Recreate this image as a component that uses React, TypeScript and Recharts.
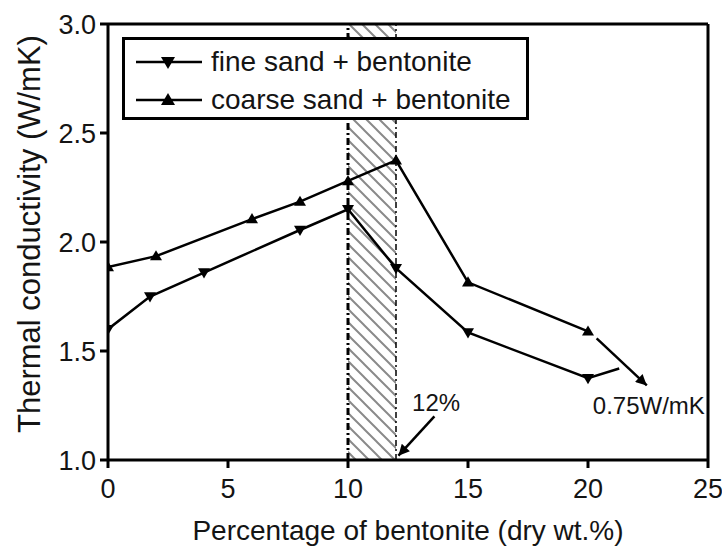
import React from 'react';
import {
  LineChart, Line, XAxis, YAxis, ReferenceArea, ReferenceLine, ReferenceDot, Legend, Label,
} from 'recharts';

// fine sand + bentonite (last point is the bend into the 0.75 W/mK arrow, no marker)
const fineX = [0, 1.75, 4, 8, 10, 12, 15, 20, 21.3];
const fineY = [1.6, 1.75, 1.86, 2.055, 2.15, 1.88, 1.585, 1.375, 1.42];

// coarse sand + bentonite
const coarseX = [0, 2, 6, 8, 10, 12, 15, 20];
const coarseY = [1.885, 1.935, 2.105, 2.185, 2.28, 2.375, 1.815, 1.59];

const xTicks = [0, 5, 10, 15, 20, 25];
const yTicks = [1.0, 1.5, 2.0, 2.5, 3.0];

// shaded band and annotations
const bandX = [10, 12];
const arrow075 = [{ x: 20.36, y: 1.558 }, { x: 22.45, y: 1.342 }];
const arrow12 = [{ x: 13.6, y: 1.2 }, { x: 12.1, y: 1.02 }];
const label12 = { x: 12.67, y: 1.266, text: '12%' };
const label075 = { x: 20.2, y: 1.252, text: '0.75W/mK' };

const fineData = fineX.map((x, i) => ({ x, y: fineY[i] }));
const coarseData = coarseX.map((x, i) => ({ x, y: coarseY[i] }));

const FONT = '"Liberation Sans", Arial, sans-serif';
const INK = '#141414';

const DownTri = ({ cx, cy, size = 6 }: any) => (
  <polygon points={`${cx},${cy + size} ${cx - size},${cy - size * 0.7} ${cx + size},${cy - size * 0.7}`} fill="#000" />
);
const UpTri = ({ cx, cy, size = 6 }: any) => (
  <polygon points={`${cx},${cy - size} ${cx - size},${cy + size * 0.7} ${cx + size},${cy + size * 0.7}`} fill="#000" />
);

const fineDot = (props: any) => {
  if (props.index === fineData.length - 1) return <g key={props.index} />;
  return <DownTri key={props.index} cx={props.cx} cy={props.cy} />;
};
const coarseDot = (props: any) => <UpTri key={props.index} cx={props.cx} cy={props.cy} />;

const arrowShape = (p: any) => (
  <line x1={p.x1} y1={p.y1} x2={p.x2} y2={p.y2} stroke="#000" strokeWidth={2.5} markerEnd="url(#arrowHead)" />
);

const LegendBox = () => {
  const rows = [
    { name: 'fine sand + bentonite', Marker: DownTri, top: 25.5 },
    { name: 'coarse sand + bentonite', Marker: UpTri, top: 63.5 },
  ];
  return (
    <div style={{
      position: 'relative', width: 407, height: 83, boxSizing: 'border-box',
      border: '3px solid #000', background: '#fff', fontFamily: FONT,
    }}>
      {rows.map(({ name, Marker, top }) => (
        <div key={name} style={{ position: 'absolute', left: 11.5, top: top - 3 - 14, height: 28, display: 'flex', alignItems: 'center' }}>
          <svg width={66} height={28}>
            <line x1={0} y1={14} x2={66} y2={14} stroke="#000" strokeWidth={2.5} />
            <Marker cx={32} cy={14} size={7} />
          </svg>
          <span style={{ marginLeft: 9, fontSize: 28, color: INK, lineHeight: '28px', whiteSpace: 'nowrap' }}>{name}</span>
        </div>
      ))}
    </div>
  );
};

export default function App() {
  return (
    <div style={{ position: 'absolute', left: 0, top: 0, background: '#fff' }}>
      <LineChart width={722} height={548} margin={{ top: 24, right: 14, bottom: 0, left: 0 }}>
        <defs>
          <pattern id="hatch" patternUnits="userSpaceOnUse" width={13} height={13}>
            <path d="M0,0 L13,13 M-2,11 L2,15 M11,-2 L15,2" stroke="#8a8a8a" strokeWidth={2} />
          </pattern>
          <marker id="arrowHead" viewBox="0 0 10 10" refX={10} refY={5} markerWidth={15} markerHeight={11}
            markerUnits="userSpaceOnUse" orient="auto">
            <path d="M0,0 L10,5 L0,10 z" fill="#000" />
          </marker>
        </defs>
        <XAxis
          type="number" dataKey="x" domain={[0, 25]} ticks={xTicks} allowDataOverflow
          height={88} tickSize={8} tickMargin={11}
          axisLine={{ stroke: '#000', strokeWidth: 3 }} tickLine={{ stroke: '#000', strokeWidth: 3 }}
          tick={{ fill: INK, fontSize: 27, fontFamily: FONT }}
        >
          <Label
            content={({ viewBox }: any) => (
              <text x={viewBox.x + viewBox.width / 2} y={540} textAnchor="middle" fontSize={28} fontFamily={FONT} fill={INK}>
                Percentage of bentonite (dry wt.%)
              </text>
            )}
          />
        </XAxis>
        <YAxis
          type="number" dataKey="y" domain={[1, 3]} ticks={yTicks} allowDataOverflow
          width={108} tickSize={8} tickMargin={4}
          tickFormatter={(v) => Number(v).toFixed(1)}
          axisLine={{ stroke: '#000', strokeWidth: 3 }} tickLine={{ stroke: '#000', strokeWidth: 3 }}
          tick={{ fill: INK, fontSize: 27, fontFamily: FONT }}
        >
          <Label
            content={({ viewBox }: any) => {
              const cy = viewBox.y + viewBox.height / 2 - 8;
              return (
                <text x={40} y={cy} transform={`rotate(-90 40 ${cy})`} textAnchor="middle" fontSize={31} fontFamily={FONT} fill={INK}>
                  Thermal conductivity (W/mK)
                </text>
              );
            }}
          />
        </YAxis>

        <ReferenceArea x1={bandX[0]} x2={bandX[1]} y1={1} y2={3} fill="url(#hatch)" fillOpacity={1} stroke="none" />
        <ReferenceLine x={bandX[0]} stroke="#000" strokeWidth={3} strokeDasharray="7 3 2 3" />
        <ReferenceLine x={bandX[1]} stroke="#000" strokeWidth={1.5} strokeDasharray="6 3 2 3" />
        <ReferenceLine y={3} stroke="#000" strokeWidth={3} />
        <ReferenceLine x={25} stroke="#000" strokeWidth={3} />

        <ReferenceLine segment={arrow075} shape={arrowShape} />
        <ReferenceLine segment={arrow12} shape={arrowShape} />
        <ReferenceDot x={label12.x} y={label12.y} r={0} fillOpacity={0} stroke="none"
          label={{ value: label12.text, position: 'right', offset: 0, fontSize: 24, fontFamily: FONT, fill: INK }} />
        <ReferenceDot x={label075.x} y={label075.y} r={0} fillOpacity={0} stroke="none"
          label={{ value: label075.text, position: 'right', offset: 0, fontSize: 24, fontFamily: FONT, fill: INK }} />

        <Line data={fineData} dataKey="y" name="fine sand + bentonite" stroke="#000" strokeWidth={2.5}
          dot={fineDot} activeDot={false} isAnimationActive={false} />
        <Line data={coarseData} dataKey="y" name="coarse sand + bentonite" stroke="#000" strokeWidth={2.5}
          dot={coarseDot} activeDot={false} isAnimationActive={false} />

        <Legend
          layout="vertical" align="center" verticalAlign="middle"
          wrapperStyle={{ left: 121.5, top: 36.5, width: 407, height: 83 }}
          content={() => <LegendBox />}
        />
      </LineChart>
    </div>
  );
}
